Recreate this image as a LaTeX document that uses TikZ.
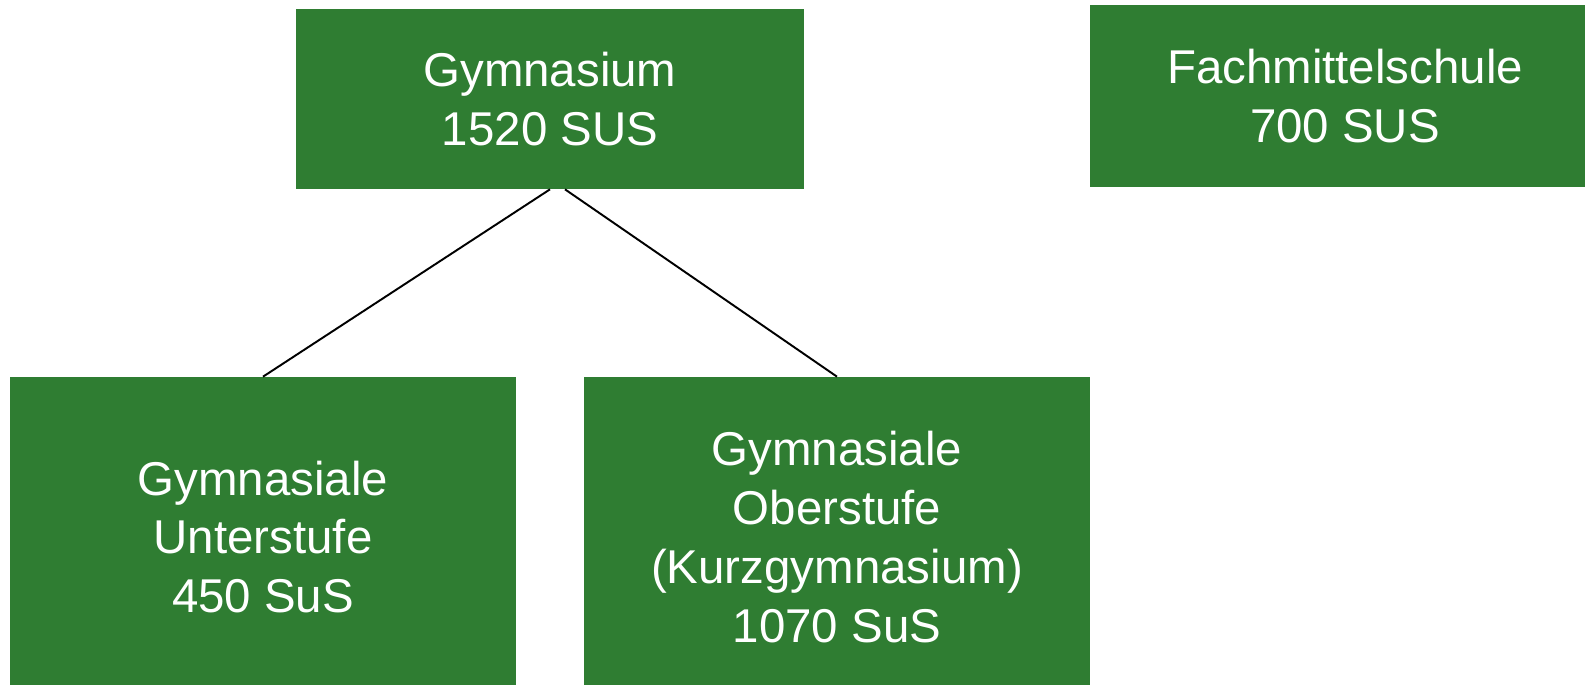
\documentclass[tikz,border=0pt]{standalone}
\usepackage{fontspec}
\setmainfont{Liberation Sans}
\usepackage{tikz}
\usetikzlibrary{positioning}
\definecolor{schulgruen}{RGB}{47,125,50}
\tikzset{schule/.style={fill=schulgruen, text=white, align=center, inner sep=0pt,
  font=\fontsize{27pt}{33.5pt}\selectfont}}
\tikzset{verbindung/.style={draw=black, line width=1.1pt}}

\begin{document}
\begin{tikzpicture}[x=0.02cm,y=-0.02cm]
\useasboundingbox (0,0) rectangle (1585,684);
\clip (0,0) rectangle (1585,684);
\node[schule, minimum width=10.16cm, minimum height=3.6cm] (gym) at (550,99) {Gymnasium\\1520 SUS};
\node[schule, minimum width=10.2cm, minimum height=3.64cm] (fms) at (1345,96) {Fachmittelschule\\700 SUS};
\node[schule, minimum width=10.12cm, minimum height=6.4cm] (unter) at (263,537) {Gymnasiale\\Unterstufe\\450 SuS};
\node[schule, minimum width=10.12cm, minimum height=6.4cm] (ober) at (837,537) {Gymnasiale\\Oberstufe\\(Kurzgymnasium)\\1070 SuS};
\draw[verbindung] (gym.south) -- (unter.north);
\draw[verbindung] ([xshift=0.3cm]gym.south) -- (ober.north);
\end{tikzpicture}
\end{document}
